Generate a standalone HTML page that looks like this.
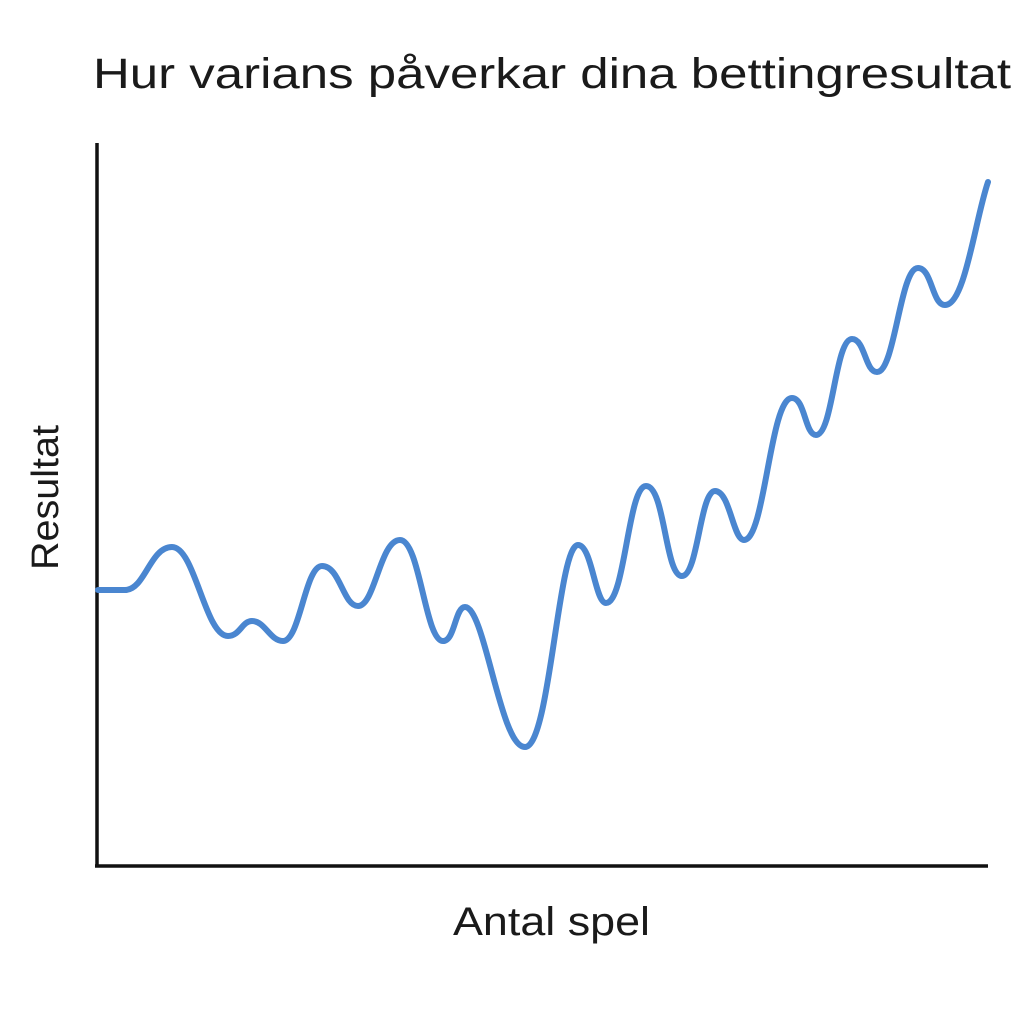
<!DOCTYPE html>
<html><head><meta charset="utf-8"><style>html,body{margin:0;padding:0;background:#fff}svg{display:block}</style></head>
<body>
<svg width="1024" height="1024" viewBox="0 0 1024 1024" xmlns="http://www.w3.org/2000/svg">
<rect width="1024" height="1024" fill="#fff"/>
<text x="93" y="88" font-family="Liberation Sans, sans-serif" font-size="43" fill="#1a1a1a" textLength="918" lengthAdjust="spacingAndGlyphs">Hur varians påverkar dina bettingresultat</text>
<line x1="97" y1="143" x2="97" y2="867" stroke="#111" stroke-width="3.5"/>
<line x1="95" y1="866" x2="988" y2="866" stroke="#111" stroke-width="3.5"/>
<text x="453" y="935" font-family="Liberation Sans, sans-serif" font-size="40" fill="#1a1a1a" textLength="197" lengthAdjust="spacingAndGlyphs">Antal spel</text>
<text transform="translate(58,570) rotate(-90)" font-family="Liberation Sans, sans-serif" font-size="38" fill="#1a1a1a" textLength="145" lengthAdjust="spacingAndGlyphs">Resultat</text>
<path fill="none" stroke="#4a86d0" stroke-width="6" stroke-linecap="round" stroke-linejoin="round"
d="M98,590 L125,590 C145,590 150,547 172,547 C195,547 205,636 228,636 C240,636 242,621 252,621 C265,621 270,641 283,641 C300,641 305,566 322,566 C340,566 343,606 358,606 C375,606 380,540 400,540 C420,540 425,641 443,641 C455,641 455,607 465,607 C485,607 500,747 525,747 C550,747 558,545 578,545 C592,545 595,603 606,603 C625,603 628,486 646,486 C665,486 665,576 682,576 C698,576 700,491 715,491 C730,491 733,540 744,540 C765,540 770,398 792,398 C805,398 805,435 816,435 C833,435 835,339 852,339 C865,339 865,372 877,372 C895,372 900,268 918,268 C932,268 932,305 945,305 C965,305 975,220 988,182"/>
</svg>
</body></html>
